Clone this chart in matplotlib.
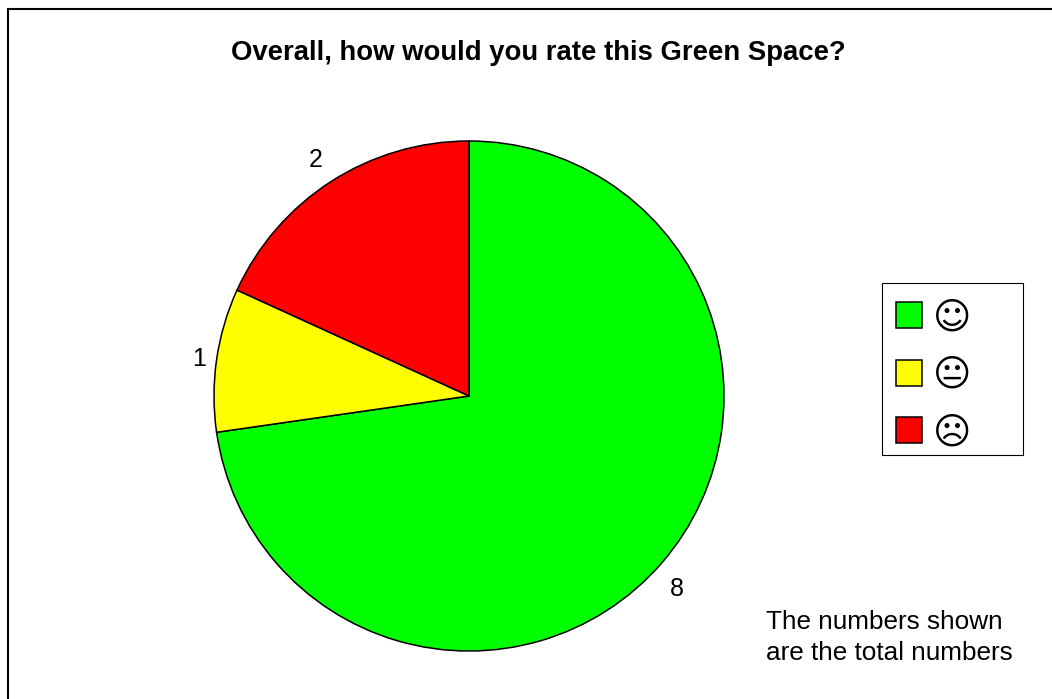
import matplotlib
matplotlib.use('Agg')
import matplotlib.pyplot as plt
from matplotlib.patches import Patch, Rectangle

plt.rcParams['font.family'] = ['Liberation Sans', 'DejaVu Sans']

ratings = ['\u263A', '\U0001F610', '\u2639']
counts = [8, 1, 2]
colors = ['#00ff00', '#ffff00', '#ff0000']
title = 'Overall, how would you rate this Green Space?'
note = 'The numbers shown\nare the total numbers'
# small shifts of the pie labels, in pixels (right, down)
label_shift = [(-2, 11), (5, 3), (-3, -2)]

W, H = 1052, 699
fig = plt.figure(figsize=(W / 100, H / 100), dpi=100, facecolor='white')

# outer frame runs off the right and bottom of the image
fig.add_artist(Rectangle((8 / W, -0.1), 1.1, 1 - 9 / H + 0.1, transform=fig.transFigure,
                         facecolor='none', edgecolor='black', linewidth=1.5))

# pie: centre (469, 396), radius 255 px, default limits are +-1.25
half = 255 * 1.25
ax = fig.add_axes([(469 - half) / W, 1 - (396 + half) / H, 2 * half / W, 2 * half / H])
wedges, texts = ax.pie(counts, colors=colors, labels=[str(c) for c in counts],
                       startangle=90, counterclock=False, labeldistance=1.09,
                       wedgeprops={'edgecolor': 'black', 'linewidth': 1.1},
                       textprops={'fontsize': 18})
for t, (dx, dy) in zip(texts, label_shift):
    t.set_ha('center')
    t.set_va('center')
    x, y = t.get_position()
    t.set_position((x + dx / 255, y - dy / 255))

fig.text(538.5 / W, 1 - 53 / H, title, fontsize=19.8, fontweight='bold', ha='center', va='center')
fig.text(766 / W, 1 - 637.5 / H, note, fontsize=18.8, ha='left', va='center', linespacing=1.32)

# legend box is drawn apart so it can be wider than the entries
fig.add_artist(Rectangle((882 / W, 1 - 455 / H), 141 / W, 172 / H, transform=fig.transFigure,
                         facecolor='white', edgecolor='black', linewidth=0.8))
handles = [Patch(facecolor=c, edgecolor='black', linewidth=1.1) for c in colors]
leg = fig.legend(handles, ratings, loc='upper left', bbox_to_anchor=(888 / W, 1 - 291 / H),
                 frameon=False, fontsize=26.5, handlelength=0.708, handleheight=0.708,
                 handletextpad=0.29, labelspacing=0.557, borderpad=0.22, borderaxespad=0)
for t in leg.get_texts():
    t.set_fontfamily(['DejaVu Sans'])

fig.savefig('out.png', dpi=100)
